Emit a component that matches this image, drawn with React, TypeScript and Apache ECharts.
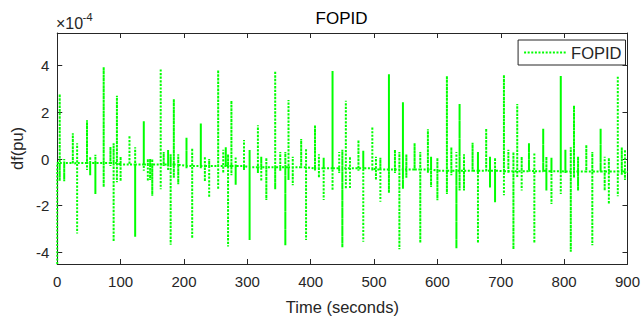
import React, { useEffect, useRef } from 'react';
import * as echarts from 'echarts';

// All frequency-deviation values are in units of 1e-4 pu (axis shows ×10^-4)
const seriesName = 'FOPID';
const xMin = 0;
const xMax = 900;
const xInterval = 100;
const yMin = -4.5;
const yMax = 5.4;
const startValue = -4.5;

// resting level of the response, read per 100 s block
const baselineByBlock = [-0.17, -0.24, -0.3, -0.35, -0.4, -0.45, -0.5, -0.52, -0.54, -0.56];

// spike events: time (s), highest value, lowest value
const spikeTime = [
  3.9, 11, 24.6, 31.4, 47, 52, 60.2,
  73.3, 84, 89, 94.2, 100, 114, 123, 136.6, 143, 146.6, 150,
  163.3, 168, 175, 179, 184, 191, 204, 213, 226.6, 233, 239.8,
  254, 262, 266, 269.6, 274.9, 281.6, 294.8, 303.6, 316.7, 322, 330,
  344, 352, 360, 365, 371.7, 385, 392.7, 406.8, 413, 420.5,
  434.5, 445, 450, 455.5, 462, 475.4, 483, 497.3, 503, 510,
  523.5, 533, 540, 545.6, 551, 564, 573, 585, 590, 600,
  615, 622, 630, 635, 642, 655.5, 664, 677, 683, 691,
  705, 712, 720, 726, 733, 744.5, 753, 767, 772, 780,
  794.7, 802, 810.5, 815.6, 822, 835, 844.5, 857.6, 864, 870.6,
  884.7, 891, 896,
];
const spikeHigh = [
  2.78, 0.0, 1.1, 0.67, 1.66, 0.1, 0.18,
  3.94, 0.52, 0.67, 2.71, 0.1, 1.0, 0.5, 1.62, 0.0, 0.0, 0.0,
  3.87, 0.3, 0.39, 0.2, 2.57, 0.2, 0.91, 0.46, 1.52, 0.1, 0.0,
  3.81, 0.4, 0.5, 0.2, 2.5, 0.1, 0.81, 0.39, 1.45, 0.1, 0.05,
  3.77, 0.3, 0.3, 2.53, 0.1, 0.86, 0.45, 1.45, 0.2, 0.05,
  3.77, 0.3, 0.4, 2.5, 0.1, 0.81, 0.35, 1.38, 0.1, 0.05,
  3.63, 0.4, 0.3, 2.43, 0.2, 0.68, 0.3, 1.28, 0.1, 0.05,
  3.56, 0.5, 0.3, 2.36, 0.2, 0.7, 0.3, 1.3, 0.1, 0.05,
  3.6, 0.4, 0.3, 2.36, 0.1, 0.68, 0.27, 1.3, 0.1, 0.05,
  3.56, 0.4, 0.5, 2.29, 0.1, 0.6, 0.3, 1.3, 0.1, 0.05,
  3.56, 0.5, 0.4,
];
const spikeLow = [
  -0.94, -0.95, -0.2, -3.19, -0.47, -0.7, -1.5,
  -1.2, -0.3, -3.54, -1.0, -0.95, -0.2, -3.33, -0.5, -0.95, -0.9, -1.58,
  -1.3, -0.3, -0.5, -3.68, -0.8, -1.08, -0.4, -3.4, -0.4, -0.96, -1.65,
  -1.3, -0.6, -0.3, -3.75, -0.7, -1.1, -0.47, -3.47, -0.6, -0.95, -1.76,
  -1.3, -0.5, -3.7, -0.9, -1.13, -0.2, -3.47, -0.5, -0.8, -1.76,
  -1.35, -0.6, -3.78, -1.28, -1.28, -0.5, -3.55, -0.5, -0.9, -1.83,
  -1.45, -0.6, -3.87, -1.28, -0.8, -0.5, -3.6, -0.6, -1.2, -1.77,
  -1.5, -0.7, -3.83, -1.35, -1.35, -0.5, -3.6, -0.5, -1.22, -1.85,
  -1.55, -0.6, -3.87, -0.8, -1.35, -0.5, -3.6, -0.5, -1.35, -1.93,
  -1.5, -0.6, -3.97, -0.8, -1.35, -0.5, -3.7, -0.5, -1.35, -1.93,
  -1.6, -0.7, -0.9,
];

const FONT = "'Liberation Sans', Arial, Helvetica, sans-serif";
const AXIS_COLOR = '#262626';

function buildData(): [number, number][] {
  const out: [number, number][] = [
    [xMin, startValue],
    [xMin, baselineByBlock[0]],
  ];
  for (let i = 0; i < spikeTime.length; i++) {
    const t = spikeTime[i];
    const b = baselineByBlock[Math.min(baselineByBlock.length - 1, Math.floor(t / 100))];
    out.push([t, b], [t, spikeHigh[i]], [t, spikeLow[i]], [t, b]);
  }
  out.push([xMax, baselineByBlock[baselineByBlock.length - 1]]);
  return out;
}

export default function App() {
  const ref = useRef<HTMLDivElement>(null);
  useEffect(() => {
    if (!ref.current) return;
    const chart = echarts.init(ref.current, undefined, { renderer: 'svg' });
    const tickCommon = {
      show: true,
      inside: true,
      length: 5,
      lineStyle: { color: AXIS_COLOR, width: 1 },
    };
    const lineCommon = { show: true, onZero: false, lineStyle: { color: AXIS_COLOR, width: 1 } };
    chart.setOption({
      animation: false,
      backgroundColor: '#ffffff',
      textStyle: { fontFamily: FONT },
      title: {
        text: 'FOPID',
        left: 341.5,
        top: 10,
        padding: 0,
        textAlign: 'center',
        textStyle: { fontSize: 17, fontWeight: 'normal', color: '#000000', fontFamily: FONT },
      },
      grid: { left: 55, right: 15, top: 33, bottom: 52, containLabel: false },
      legend: {
        data: [seriesName],
        right: 17.5,
        top: 40,
        orient: 'horizontal',
        itemWidth: 42,
        itemHeight: 14,
        padding: [4, 4, 4, 5],
        borderColor: AXIS_COLOR,
        borderWidth: 1,
        backgroundColor: '#ffffff',
        itemStyle: { opacity: 0 },
        textStyle: { fontSize: 16.5, color: AXIS_COLOR, fontFamily: FONT },
      },
      xAxis: [
        {
          type: 'value',
          min: xMin,
          max: xMax,
          interval: xInterval,
          position: 'bottom',
          name: 'Time (seconds)',
          nameLocation: 'middle',
          nameGap: 34,
          nameTextStyle: { fontSize: 16.5, color: AXIS_COLOR, fontFamily: FONT },
          axisLine: lineCommon,
          axisTick: tickCommon,
          splitLine: { show: false },
          axisLabel: { fontSize: 15, color: AXIS_COLOR, margin: 10, fontFamily: FONT },
        },
        {
          type: 'value',
          min: xMin,
          max: xMax,
          interval: xInterval,
          position: 'top',
          axisLine: lineCommon,
          axisTick: tickCommon,
          splitLine: { show: false },
          axisLabel: { show: false },
        },
      ],
      yAxis: [
        {
          type: 'value',
          min: yMin,
          max: yMax,
          splitNumber: 5,
          position: 'left',
          name: 'df(pu)',
          nameLocation: 'middle',
          nameGap: 29,
          nameTextStyle: { fontSize: 16.5, color: AXIS_COLOR, fontFamily: FONT },
          axisLine: lineCommon,
          axisTick: tickCommon,
          splitLine: { show: false },
          axisLabel: {
            fontSize: 15,
            color: AXIS_COLOR,
            margin: 8,
            fontFamily: FONT,
            showMinLabel: false,
            showMaxLabel: false,
            formatter: (v: number) => (Math.abs(v % 2) < 1e-9 ? String(v) : ''),
          },
        },
        {
          type: 'value',
          min: yMin,
          max: yMax,
          splitNumber: 5,
          position: 'right',
          axisLine: lineCommon,
          axisTick: tickCommon,
          splitLine: { show: false },
          axisLabel: { show: false },
        },
      ],
      graphic: [
        {
          type: 'text',
          left: 56,
          top: 15,
          style: { text: '×10', fontSize: 16, fill: AXIS_COLOR, fontFamily: FONT },
        },
        {
          type: 'text',
          left: 82.5,
          top: 11,
          style: { text: '-4', fontSize: 11.5, fill: AXIS_COLOR, fontFamily: FONT },
        },
      ],
      series: [
        {
          name: seriesName,
          type: 'line',
          xAxisIndex: 0,
          yAxisIndex: 0,
          data: buildData(),
          showSymbol: false,
          symbol: 'none',
          clip: true,
          lineStyle: { color: '#00ff00', width: 2, type: [2, 1.6] },
          itemStyle: { color: '#00ff00' },
        },
      ],
    });
    return () => chart.dispose();
  }, []);
  return (
    <div
      ref={ref}
      style={{ position: 'fixed', left: 0, top: 0, width: 643, height: 320, background: '#fff' }}
    />
  );
}
